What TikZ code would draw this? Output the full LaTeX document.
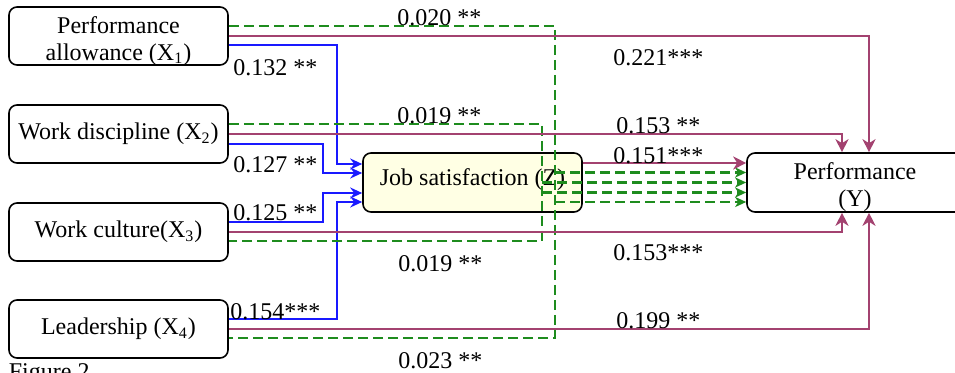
\documentclass[tikz,border=0pt]{standalone}
\usepackage{fontspec}
\setmainfont{Liberation Serif}
\usetikzlibrary{arrows.meta}
\definecolor{purc}{RGB}{163,66,112}
\definecolor{grnc}{RGB}{30,140,30}
\definecolor{bluc}{RGB}{25,25,255}
\definecolor{zfill}{RGB}{255,255,228}
\newcommand{\twoline}[3]{\raisebox{#1}[\height][\depth]{\begin{tabular}{@{}c@{}}#2\\#3\end{tabular}}}
\begin{document}
\begin{tikzpicture}[x=0.5pt,y=-0.5pt,
  font=\fontsize{12}{13.5}\selectfont,
  box/.style={draw, line width=0.8pt, rounded corners=4pt, minimum width=109.5pt,
    minimum height=29pt, align=center, inner sep=0pt},
  lbl/.style={inner sep=0pt, anchor=west},
  purl/.style={draw=purc, line width=1.15pt, -{Stealth[length=6.5pt,width=6.5pt,inset=2pt]}},
  grnl/.style={draw=grnc, line width=1.1pt, dash pattern=on 5pt off 2.5pt},
  grna/.style={grnl, -{Stealth[length=5.5pt,width=5pt,inset=1.5pt]}},
  blul/.style={draw=bluc, line width=1.3pt, -{Stealth[length=6pt,width=5.5pt,inset=2pt]}}
]
\useasboundingbox (0,0) rectangle (955,373);
\renewcommand{\arraystretch}{1.0}

% boxes
\node[box] (x1) at (118.5,36) {\twoline{-2.75pt}{Performance}{allowance (X\textsubscript{1})}};
\node[box] (x2) at (118.5,134) {Work discipline (X\textsubscript{2})};
\node[box] (x3) at (118.5,232) {Work culture(X\textsubscript{3})};
\node[box] (x4) at (118.5,329) {Leadership (X\textsubscript{4})};
\node[box, fill=zfill, minimum height=29.5pt] (z) at (472.5,182.5) {\raisebox{1.25pt}[\height][\depth]{Job satisfaction (Z)}};
\node[box, minimum width=108pt, minimum height=29.5pt] (y) at (855,182.5) {\twoline{-2.75pt}{Performance}{(Y)}};

% blue: X -> Z
\draw[blul] ([yshift=-4.5pt]x1.east) -| (337,164) -- ([yshift=9.25pt]z.west);
\draw[blul] ([yshift=-5pt]x2.east) -| (323,173) -- ([yshift=4.75pt]z.west);
\draw[blul] ([yshift=5pt]x3.east) -| (323,193) -- ([yshift=-5.25pt]z.west);
\draw[blul] ([yshift=5pt]x4.east) -| (337,202) -- ([yshift=-9.75pt]z.west);

% green dashed: indirect X -> Y
\draw[grnl] ([yshift=5pt]x1.east) -| (555,338) -- ([yshift=-4.5pt]x4.east);
\draw[grnl] ([yshift=5pt]x2.east) -| (542,241) -- ([yshift=-4.5pt]x3.east);
\draw[grna] (555,172.5) -- ([yshift=5pt]y.west);
\draw[grna] (542,182.5) -- (y.west);
\draw[grna] (542,192.5) -- ([yshift=-5pt]y.west);
\draw[grna] (555,202) -- ([yshift=-9.75pt]y.west);

% purple: direct X -> Y, Z -> Y
\draw[purl] (x1.east) -| ([xshift=7pt]y.north);
\draw[purl] (x2.east) -| ([xshift=-6.5pt]y.north);
\draw[purl] ([yshift=9.75pt]z.east) -- ([yshift=9.75pt]y.west);
\draw[purl] (x3.east) -| ([xshift=-6.5pt]y.south);
\draw[purl] (x4.east) -| ([xshift=7pt]y.south);

% labels
\node[lbl] (l1) at (397,18) {0.020 **};
\node[lbl] (l2) at (613,57.5) {0.221***};
\node[lbl] (l3) at (233,67.5) {0.132 **};
\node[lbl] (l4) at (397,116) {0.019 **};
\node[lbl] (l5) at (616,125.5) {0.153 **};
\node[lbl] (l6) at (233,165) {0.127 **};
\node[lbl] (l7) at (613,155.5) {0.151***};
\node[lbl] (l8) at (233,213) {0.125 **};
\node[lbl] (l9) at (613,252.5) {0.153***};
\node[lbl] (l10) at (398,263.5) {0.019 **};
\node[lbl] (l11) at (230,311.5) {0.154***};
\node[lbl] (l12) at (616,320.5) {0.199 **};
\node[lbl] (l13) at (398,360.5) {0.023 **};
\node[inner sep=0pt, anchor=north west] (fig) at (8.5,363) {Figure 2};
\end{tikzpicture}
\end{document}
